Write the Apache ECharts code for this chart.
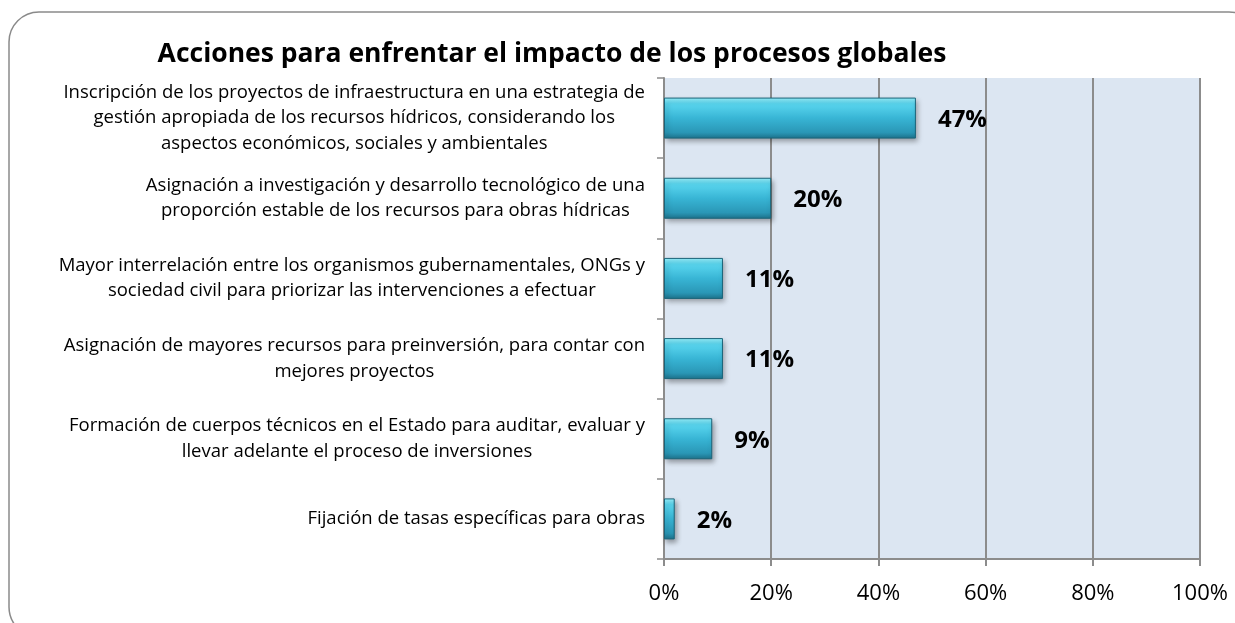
<!DOCTYPE html>
<html>
<head>
<meta charset="utf-8">
<script src="https://cdn.jsdelivr.net/npm/echarts@6/dist/echarts.min.js"></script>
<style>
  html, body { margin: 0; padding: 0; background: #ffffff; }
  #chart { width: 1235px; height: 623px; }
</style>
</head>
<body>
<div id="chart"></div>
<script>
// categories, top to bottom as in the picture
var categories = [
  "Inscripción de los proyectos de infraestructura en una estrategia de\ngestión apropiada de los recursos hídricos, considerando los\naspectos económicos, sociales y ambientales",
  "Asignación a investigación y desarrollo tecnológico de una\nproporción estable de los recursos para obras hídricas",
  "Mayor interrelación entre los organismos gubernamentales, ONGs y\nsociedad civil para priorizar las intervenciones a efectuar",
  "Asignación de mayores recursos para preinversión, para contar con\nmejores proyectos",
  "Formación de cuerpos técnicos en el Estado para auditar, evaluar y\nllevar adelante el proceso de inversiones",
  "Fijación de tasas específicas para obras"
];
// percentages
var values = [47, 20, 11, 11, 9, 2];

var chart = echarts.init(document.getElementById("chart"));

var barColor = new echarts.graphic.LinearGradient(0, 0, 0, 1, [
  { offset: 0, color: "#9af3ff" },
  { offset: 0.15, color: "#5ad6ef" },
  { offset: 0.5, color: "#38b5d5" },
  { offset: 0.85, color: "#2a97b6" },
  { offset: 1, color: "#1d728b" }
]);

var option = {
  backgroundColor: "#ffffff",
  textStyle: { fontFamily: "Open Sans" },
  title: {
    text: "Acciones para enfrentar el impacto de los procesos globales",
    left: 547,
    top: 36,
    textAlign: "center",
    textStyle: { fontSize: 26.5, fontWeight: "bold", color: "#000000", fontFamily: "Open Sans" }
  },
  graphic: [
    {
      type: "rect",
      shape: { x: 9, y: 12, width: 1250, height: 625, r: 30 },
      style: { fill: "none", stroke: "#8a8a8a", lineWidth: 1.5 },
      silent: true
    }
  ],
  grid: {
    left: 664,
    top: 78,
    width: 536,
    height: 481,
    show: true,
    backgroundColor: "#dce6f2",
    borderWidth: 0,
    containLabel: false
  },
  xAxis: {
    type: "value",
    min: 0,
    max: 100,
    interval: 20,
    axisLine: { show: true, lineStyle: { color: "#8c8c8c", width: 2 } },
    axisTick: { show: true, length: 7, lineStyle: { color: "#8c8c8c", width: 2 } },
    splitLine: { show: true, lineStyle: { color: "#8c8c8c", width: 2 } },
    axisLabel: {
      formatter: "{value}%",
      margin: 24,
      fontSize: 22,
      color: "#000000",
      fontFamily: "Open Sans"
    }
  },
  yAxis: {
    type: "category",
    inverse: true,
    data: categories,
    axisLine: { show: true, lineStyle: { color: "#8c8c8c", width: 2 } },
    axisTick: { show: true, length: 7, lineStyle: { color: "#8c8c8c", width: 1.5 } },
    axisLabel: {
      margin: 19,
      color: "#000000",
      formatter: function (v) {
        return v.split("\n").map(function (l) { return "{c|" + l + "}"; }).join("\n");
      },
      rich: {
        c: { align: "center", fontSize: 18.5, lineHeight: 25.5, color: "#000000", fontFamily: "Open Sans" }
      }
    }
  },
  series: [
    {
      type: "bar",
      data: values,
      barWidth: 41,
      itemStyle: {
        color: barColor,
        borderColor: "#1b6479",
        borderWidth: 1,
        shadowColor: "rgba(0,0,0,0.35)",
        shadowBlur: 5,
        shadowOffsetX: 2,
        shadowOffsetY: 3
      },
      label: {
        show: true,
        position: "right",
        distance: 22,
        offset: [0, 2],
        formatter: "{c}%",
        fontSize: 24,
        fontWeight: "bold",
        color: "#000000",
        fontFamily: "Open Sans"
      }
    }
  ]
};

chart.setOption(option);
</script>
</body>
</html>
